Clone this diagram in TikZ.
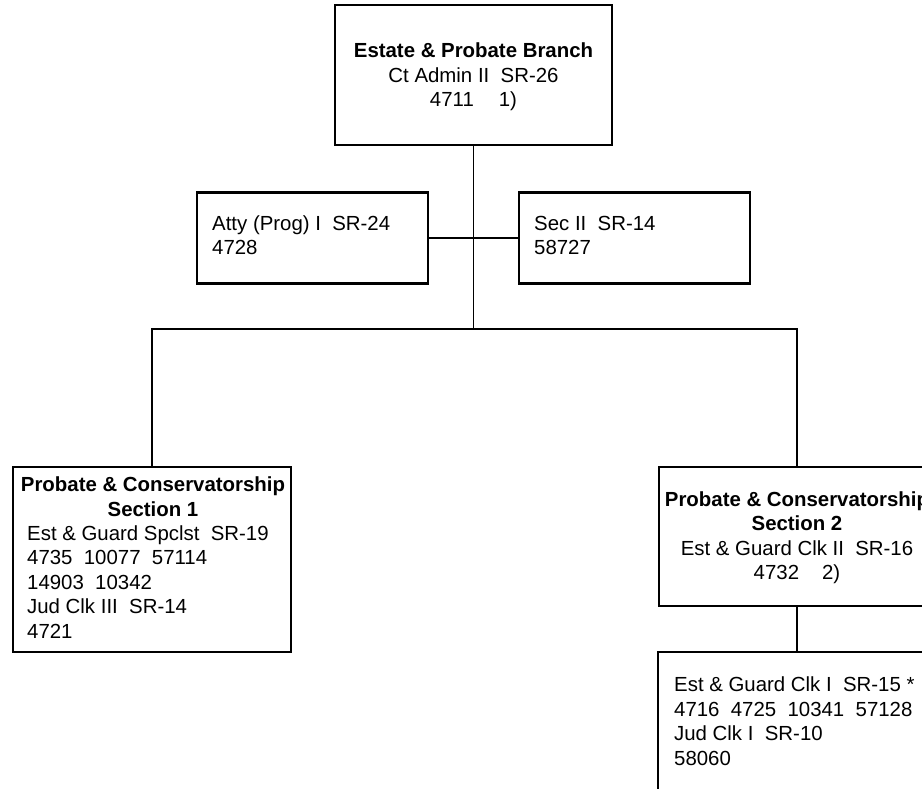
\documentclass[tikz,border=0pt]{standalone}
\usepackage{fontspec}
\setmainfont{Liberation Sans}
\begin{document}
\begin{tikzpicture}[x=1pt,y=-1pt,
  box/.style={draw,line width=2.2pt,inner sep=0pt,minimum width=#1},
  conn/.style={line width=1.7pt},
  txt/.style={font=\fontsize{20.4}{24.5}\selectfont,inner sep=0pt}]
\useasboundingbox (0,0) rectangle (922,789);
\clip (0,0) rectangle (922,789);
% boxes
\node[box=277pt,minimum height=140pt] (top) at (473.5,75) {};
\node[box=231pt,minimum height=91pt] (atty) at (312.5,238) {};
\node[box=231pt,minimum height=91pt] (sec) at (634.5,238) {};
\node[box=278pt,minimum height=185pt] (sec1) at (152,559.5) {};
\node[box=276pt,minimum height=139pt] (sec2) at (797,536.5) {};
\node[box=278pt,minimum height=168pt] (clk) at (797,736) {};
% connectors
\draw[conn] (top.south) -- (top.south |- 0,330);
\draw[conn] (sec1.north) -- ++(0,-137) -| (sec2.north);
\draw[conn] (atty.east) -- (sec.west);
\draw[conn] (sec2.south) -- (clk.north);
% texts (base anchor = baseline of the last line)
\node[txt,align=center,anchor=base] (ttop) at (473.5,107)
  {\textbf{Estate \& Probate Branch}\\Ct Admin II~ SR-26\\4711\hspace{25pt}1)};
\node[txt,align=left,anchor=base west] (tatty) at (212,254.5)
  {Atty (Prog) I~ SR-24\\4728};
\node[txt,align=left,anchor=base west] (tsec) at (534,254.5)
  {Sec II~ SR-14\\58727};
\node[txt,align=center,anchor=base] (ts1head) at (153,516)
  {\textbf{Probate \& Conservatorship}\\\textbf{Section 1}};
\node[txt,align=left,anchor=base west] (ts1body) at (27,638)
  {Est \& Guard Spclst~ SR-19\\4735~ 10077~ 57114\\14903~ 10342\\Jud Clk III~ SR-14\\4721};
\node[txt,align=center,anchor=base] (ts2) at (797,579.5)
  {\textbf{Probate \& Conservatorship}\\\textbf{Section 2}\\Est \& Guard Clk II~ SR-16\\4732\hspace{23pt}2)};
\node[txt,align=left,anchor=base west] (tclk) at (674,765)
  {Est \& Guard Clk I~ SR-15 *\\4716~ 4725~ 10341~ 57128\\Jud Clk I~ SR-10\\58060};
\end{tikzpicture}
\end{document}
